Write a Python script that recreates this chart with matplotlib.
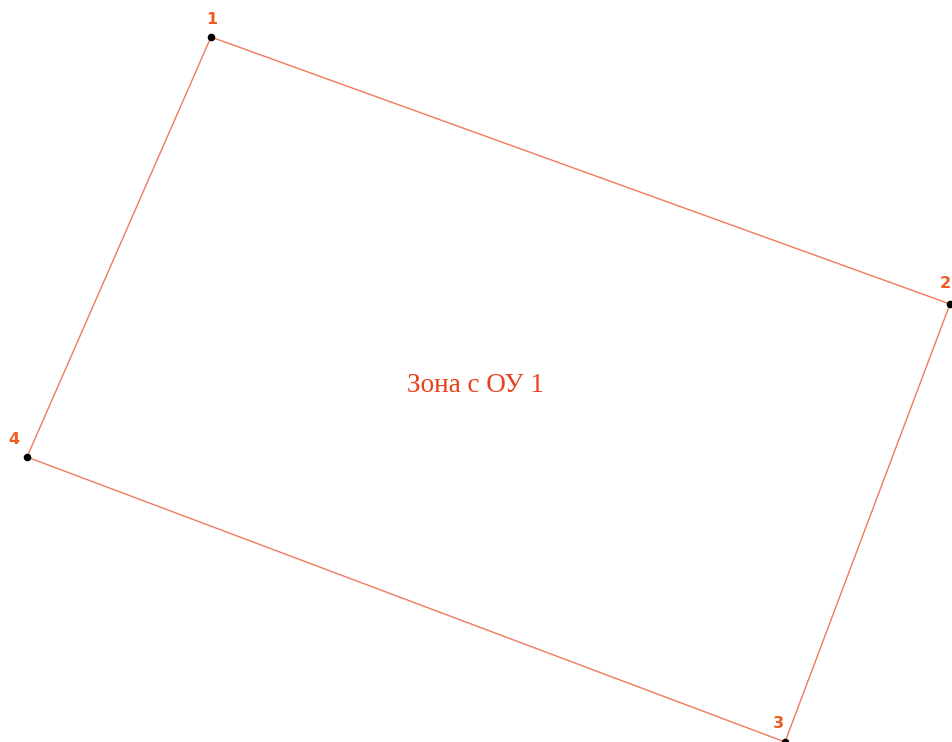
import matplotlib
matplotlib.use('Agg')
import matplotlib.pyplot as plt

# vertex numbers and their coordinates (image units, y down)
point_ids = ['1', '2', '3', '4']
point_x = [211, 950, 785, 27]
point_y = [37, 304, 742, 457]
zone_label = 'Зона с ОУ 1'
zone_x = 475
zone_y = 385

fig = plt.figure(figsize=(9.52, 7.42), dpi=100)
ax = fig.add_axes([0, 0, 1, 1])
ax.set_xlim(0, 952)
ax.set_ylim(742, 0)
ax.axis('off')

xs = point_x + point_x[:1]
ys = point_y + point_y[:1]
ax.plot(xs, ys, '-', color='#f07a5a', lw=1.0, zorder=1)
ax.scatter(point_x, point_y, s=20, color='black', zorder=2)

offsets = [(1, -18), (-5, -20), (-7, -19), (-13, -17)]
for pid, x, y, (dx, dy) in zip(point_ids, point_x, point_y, offsets):
    ax.text(x + dx, y + dy, pid, color='#f05a1e', fontsize=11.5,
            fontweight='bold', family='DejaVu Sans',
            ha='center', va='center')

ax.text(zone_x, zone_y, zone_label, color='#e8401c', fontsize=19.5,
        family='Liberation Serif', ha='center', va='center')

fig.savefig('out.png', dpi=100, facecolor='white')
